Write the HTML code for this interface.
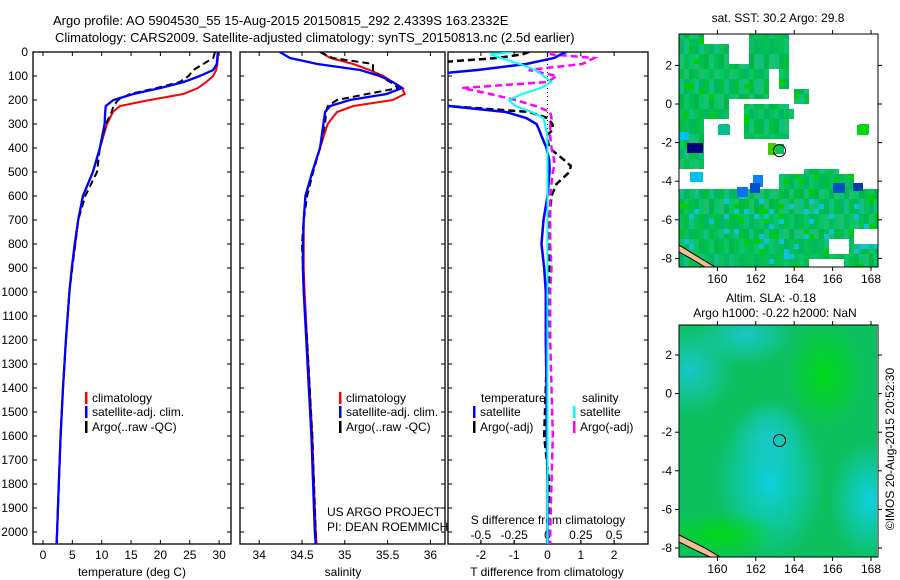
<!DOCTYPE html>
<html><head><meta charset="utf-8"><style>
html,body{margin:0;padding:0;background:#fff;}
svg{display:block;font-family:"Liberation Sans",sans-serif;}
text{font-size:12px;fill:#000;}
</style></head><body>
<svg id="chart" width="900" height="580" viewBox="0 0 900 580" xmlns="http://www.w3.org/2000/svg">
<defs>
<clipPath id="c1"><rect x="33" y="52" width="198" height="492"/></clipPath>
<clipPath id="c2"><rect x="240" y="52" width="205" height="492"/></clipPath>
<clipPath id="c3"><rect x="448" y="52" width="200" height="492"/></clipPath>
<clipPath id="cm1"><rect x="679" y="34" width="199" height="233"/></clipPath>
<clipPath id="cm2"><rect x="679" y="325" width="198" height="232"/></clipPath>
<radialGradient id="g1" cx="0.5" cy="0.5" r="0.5"><stop offset="0" stop-color="#10d0e0"/><stop offset="1" stop-color="#10d0e0" stop-opacity="0"/></radialGradient>
<radialGradient id="g2" cx="0.5" cy="0.5" r="0.5"><stop offset="0" stop-color="#00d818"/><stop offset="1" stop-color="#00d818" stop-opacity="0"/></radialGradient>
<radialGradient id="g3" cx="0.5" cy="0.5" r="0.5"><stop offset="0" stop-color="#18c8c8"/><stop offset="1" stop-color="#18c8c8" stop-opacity="0"/></radialGradient>
</defs>
<text x="53" y="25" style="font-size:13px">Argo profile: AO 5904530_55 15-Aug-2015 20150815_292 2.4339S 163.2332E</text>
<text x="55" y="42" style="font-size:13px">Climatology: CARS2009. Satellite-adjusted climatology: synTS_20150813.nc (2.5d earlier)</text>
<g id="axes"></g>
<g id="series"></g>
<g id="maps"></g>
</svg>
<script>
// ---- profile data ----
const depth = [0,25,50,75,100,125,150,175,200,225,250,300,400,500,600,700,800,900,1000,1200,1400,1600,1800,2000,2050];
const tClim = [29.8,29.8,29.7,29.5,29.0,27.8,26.4,23.9,18.2,13.1,11.9,10.9,9.7,8.5,6.8,6.0,5.5,4.9,4.5,3.9,3.4,3.0,2.7,2.4,2.3];
const tSat  = [29.8,29.7,29.6,29.0,26.7,24.0,20.0,15.4,12.0,10.7,10.6,10.5,9.7,8.5,6.8,6.0,5.4,4.9,4.5,3.9,3.4,3.0,2.7,2.4,2.3];
const tArgo = [29.3,29.0,27.3,25.6,24.8,23.3,19.4,14.8,12.8,12.0,11.7,10.7,9.7,9.2,7.2,6.0,5.5,5.0,4.5,3.9,3.4,3.0,2.7,2.4,2.4];
const sClim = [34.71,34.83,35.10,35.29,35.45,35.56,35.67,35.70,35.56,35.10,34.91,34.80,34.71,34.62,34.54,34.52,34.52,34.52,34.53,34.56,34.59,34.62,34.64,34.66,34.67];
const sSat  = [34.24,34.36,34.68,35.18,35.41,35.56,35.67,35.49,35.06,34.83,34.77,34.75,34.71,34.62,34.54,34.52,34.51,34.51,34.52,34.55,34.58,34.61,34.63,34.65,34.66];
const sArgo = [34.71,34.86,35.33,35.33,35.41,35.53,35.63,35.26,34.91,34.80,34.78,34.77,34.71,34.63,34.56,34.52,34.50,34.51,34.52,34.56,34.59,34.62,34.64,34.66,34.66];
// ---- difference data ----
const dDepth = [0,10,25,50,75,100,125,150,175,200,225,250,275,300,325,350,400,450,475,500,550,600,700,800,900,1000,1200,1400,1600,1800,2000,2050];
const dTSat  = [0.57,0.4,0.2,-0.64,-2.1,-4,-5,-6,-6,-5,-2.97,-1.25,-0.64,-0.33,-0.25,-0.18,-0.03,0.05,0.06,0.06,0.03,0,-0.12,-0.18,-0.1,-0.05,-0.05,-0.03,-0.02,0,0,0];
const dTArgo = [-0.55,-0.76,-1.5,-4,-5,-6,-6,-6,-6,-5,-3,-0.55,0,0.15,0.15,-0.03,0.06,0.5,0.7,0.66,0.27,0.12,0.05,0.05,0.05,0.03,0,-0.05,-0.1,0.05,0,0];
const dSSat  = [-0.26,-0.43,-0.35,-0.21,-0.09,-0.03,0.03,-0.05,-0.19,-0.29,-0.24,-0.12,-0.03,-0.02,-0.01,0,0,0,0,0,0,0,0,0,0,0,0,0,0,0,0,0];
const dSArgo = [0.02,0.03,0.35,0.26,-0.14,0.07,0,-0.64,-0.43,-0.24,-0.09,0.02,0.03,0.02,0.02,0.02,0.03,0.05,0.05,0.04,0.03,0.02,0.02,0.02,0.03,0.02,0.02,0.03,0.04,0.03,0.02,0.02];
// ---- tick labels ----
const depthTicks = [0,100,200,300,400,500,600,700,800,900,1000,1100,1200,1300,1400,1500,1600,1700,1800,1900,2000];
const tempTicks = [0,5,10,15,20,25,30];
const salTicks = [34,34.5,35,35.5,36];
const dTTicks = [-2,-1,0,1,2];
const dSTicks = [-0.5,-0.25,0,0.25,0.5];
const latTicks = [2,0,-2,-4,-6,-8];
const lonTicks = [160,162,164,166,168];

const NS = "http://www.w3.org/2000/svg";
function mk(tag, attrs, parent){const e=document.createElementNS(NS,tag);for(const k in attrs)e.setAttribute(k,attrs[k]);(parent||document.getElementById('chart')).appendChild(e);return e;}
function txt(x,y,s,anchor,parent){const e=mk('text',{x:x,y:y,'text-anchor':anchor||'start'},parent);e.textContent=s;return e;}

const yD = d => 52 + d*0.24;
const xT = t => 43 + t*5.87;
const xS = s => 302 + (s-34.5)*85.6;
const xDT = t => 547.5 + t*33.3;
const xDS = s => 547.5 + s*133.3;

const axes = document.getElementById('axes');
const series = document.getElementById('series');

const panels = [[33,231,'temperature-panel'],[240,445,'salinity-panel'],[448,648,'difference-panel']];
panels.forEach(p=>{
  const r = mk('rect',{x:p[0],y:52,width:p[1]-p[0],height:492,fill:'none',stroke:'#000','stroke-width':1.3},axes);
  
  
  depthTicks.forEach(d=>{
    mk('line',{x1:p[0],x2:p[0]+4,y1:yD(d),y2:yD(d),stroke:'#000'},axes);
    mk('line',{x1:p[1]-4,x2:p[1],y1:yD(d),y2:yD(d),stroke:'#000'},axes);
  });
});
depthTicks.forEach(d=>{
  const t = txt(28, yD(d)+4, String(d), 'end', axes);
  
  
});
function xticks(vals, fx, y, label){
  vals.forEach(v=>{
    const x = fx(v);
    mk('line',{x1:x,x2:x,y1:544,y2:540,stroke:'#000'},axes);
    mk('line',{x1:x,x2:x,y1:52,y2:56,stroke:'#000'},axes);
    const t = txt(x, y, String(v), 'middle', axes);
    
    
  });
}
xticks(tempTicks, xT, 559, 'temperature-tick-label');
xticks(salTicks, xS, 559, 'salinity-tick-label');
xticks(dTTicks, xDT, 559, 't-difference-tick-label');
dSTicks.forEach(v=>{
  const x = xDS(v);
  mk('line',{x1:x,x2:x,y1:544,y2:540,stroke:'#000'},axes);
  const t = txt(x, 539, String(v), 'middle', axes);
  
  
});
[[132,576,'temperature (deg C)','temperature-axis-title'],[343,576,'salinity','salinity-axis-title'],
 [547,576,'T difference from climatology','t-difference-axis-title'],[548,524,'S difference from climatology','s-difference-axis-title']].forEach(a=>{
  const t = txt(a[0],a[1],a[2],'middle',axes);
  
  
});
mk('line',{x1:547.5,x2:547.5,y1:52,y2:544,stroke:'#000','stroke-dasharray':'1,3'},axes);

function line(xs, ds, fx, color, dash, clip, name, w){
  const pts = xs.map((v,i)=>fx(v).toFixed(1)+','+yD(ds[i]).toFixed(1)).join(' ');
  const a = {points:pts,fill:'none',stroke:color,'stroke-width':w||2,'clip-path':'url(#'+clip+')'};
  if(dash) a['stroke-dasharray']=dash;
  const e = mk('polyline',a,series);
  
  
}
line(tClim, depth, xT, '#ff0000', null, 'c1', 'temperature-climatology-line');
line(tArgo, depth, xT, '#000', '7,4', 'c1', 'temperature-argo-line');
line(tSat, depth, xT, '#0000ff', null, 'c1', 'temperature-satellite-line', 2.3);
line(sClim, depth, xS, '#ff0000', null, 'c2', 'salinity-climatology-line');
line(sArgo, depth, xS, '#000', '7,4', 'c2', 'salinity-argo-line');
line(sSat, depth, xS, '#0000ff', null, 'c2', 'salinity-satellite-line', 2.3);
line(dTArgo, dDepth, xDT, '#000', '7,4', 'c3', 't-diff-argo-line', 2.5);
line(dSArgo, dDepth, xDS, '#ff00ff', '7,4', 'c3', 's-diff-argo-line', 2.5);
line(dTSat, dDepth, xDT, '#0000ff', null, 'c3', 't-diff-satellite-line', 2.5);
line(dSSat, dDepth, xDS, '#00ffff', null, 'c3', 's-diff-satellite-line', 2);

function leg(x,y,color,label,name){
  mk('rect',{x:x,y:y-10,width:2.5,height:12,fill:color},axes);
  const t = txt(x+7,y,label,'start',axes);
  
  
}
leg(85,402,'#ff0000','climatology','legend-climatology');
leg(85,416,'#0000ff','satellite-adj. clim.','legend-satellite-adj');
leg(85,431,'#000','Argo(..raw -QC)','legend-argo');
leg(339,402,'#ff0000','climatology','legend-climatology-2');
leg(339,416,'#0000ff','satellite-adj. clim.','legend-satellite-adj-2');
leg(339,431,'#000','Argo(..raw -QC)','legend-argo-2');
let tt = txt(481,402,'temperature','start',axes);


tt = txt(582,402,'salinity','start',axes);


leg(473,416,'#0000ff','satellite','legend-t-satellite');
leg(473,431,'#000','Argo(-adj)','legend-t-argo');
leg(573,416,'#00ffff','satellite','legend-s-satellite');
leg(573,431,'#ff00ff','Argo(-adj)','legend-s-argo');
tt = txt(327,516,'US ARGO PROJECT','start',axes);


tt = txt(327,531,'PI: DEAN ROEMMICH','start',axes);



// ---- maps ----
const maps = document.getElementById('maps');
const lonX = lon => 679 + (lon-158)*19.2;
function mapAxes(top, bottom, lat0y, name){
  const r = mk('rect',{x:679,y:top,width:199,height:bottom-top,fill:'none',stroke:'#000'},maps);
  
  
  latTicks.forEach(l=>{
    const y = lat0y - l*19.3;
    mk('line',{x1:675,x2:679,y1:y,y2:y,stroke:'#000'},maps);
    mk('line',{x1:878,x2:882,y1:y,y2:y,stroke:'#000'},maps);
    const t = txt(672,y+4,String(l),'end',maps);
    
    
  });
  lonTicks.forEach(l=>{
    const x = lonX(l);
    mk('line',{x1:x,x2:x,y1:top-4,y2:top,stroke:'#000'},maps);
    mk('line',{x1:x,x2:x,y1:bottom,y2:bottom+4,stroke:'#000'},maps);
    const t = txt(x,bottom+16,String(l),'middle',maps);
    
    
  });
}
const greenRects = [[679,35,730,120],[679,63,770,100],[749,35,787,67],[745,105,790,140],[679,120,703,167],[679,190,878,267],[803,167,837,193],[780,173,852,190],[718,125,730,135],[857,125,868,135],[768,143,785,155],[783,110,793,120],[795,90,810,103],[710,60,760,100],[780,70,787,88]];
const whiteRects = [[679,172,688,182],[810,257,845,267],[830,240,848,256],[705,35,730,43],[730,35,748,63],[856,230,878,245]];
const pal = ['#00b84a','#08bf5c','#00c050','#10c080','#00b860','#18c070','#00c040','#06c668'];
const mg = mk('g',{'clip-path':'url(#cm1)'},maps);


function inR(x,y,rs){return rs.some(r=>x>=r[0]&&x<r[2]&&y>=r[1]&&y<r[3]);}
for(let x=679;x<878;x+=5){for(let y=34;y<267;y+=5){
  if(!inR(x+2,y+2,greenRects)||inR(x+2,y+2,whiteRects)) continue;
  const h=((x*7919)^(y*104729))>>>3;
  let c=pal[h%8];
  if(y>190 && h%11===0) c='#10c0d8';
  if(h%23===0) c='#00d000';
  mk('rect',{x:x,y:y,width:5,height:5,fill:c},mg);
}}
[[687,143,16,10,'#000080'],[753,175,10,12,'#1080f0'],[737,187,11,10,'#1070f0'],[750,183,10,10,'#0050d0'],[833,183,12,10,'#0050c8'],[853,183,10,8,'#0040b0'],[690,172,13,10,'#00c0f0'],[679,132,10,8,'#00c0f0'],[768,143,8,12,'#40d000'],[857,125,11,10,'#00d800'],[718,125,12,10,'#00c090']].forEach(p=>mk('rect',{x:p[0],y:p[1],width:p[2],height:p[3],fill:p[4]},mg));
mk('path',{d:'M679,245 L700,258 L715,267 L705,267 L690,258 L679,252 Z',fill:'#f0c090',stroke:'#000','stroke-width':1},mg);
mapAxes(34,267,104,'sst-map-frame');
mk('circle',{cx:779.5,cy:150.6,r:6,fill:'none',stroke:'#000'},maps);
tt = txt(778,22,'sat. SST: 30.2 Argo: 29.8','middle',maps);



const bg = mk('g',{'clip-path':'url(#cm2)'},maps);


mk('rect',{x:679,y:325,width:199,height:232,fill:'#0cc060'},bg);
mk('ellipse',{cx:690,cy:370,rx:45,ry:45,fill:'url(#g3)'},bg);
mk('ellipse',{cx:745,cy:335,rx:50,ry:30,fill:'url(#g3)'},bg);
mk('ellipse',{cx:770,cy:480,rx:55,ry:80,fill:'url(#g1)'},bg);
mk('ellipse',{cx:770,cy:440,rx:35,ry:40,fill:'url(#g3)'},bg);
mk('ellipse',{cx:870,cy:500,rx:40,ry:60,fill:'url(#g1)'},bg);
mk('ellipse',{cx:825,cy:375,rx:40,ry:55,fill:'url(#g2)'},bg);
mk('ellipse',{cx:720,cy:535,rx:60,ry:25,fill:'url(#g2)'},bg);
mk('path',{d:'M679,535 L705,548 L720,557 L710,557 L695,550 L679,542 Z',fill:'#f0c090',stroke:'#000','stroke-width':1},bg);
mapAxes(325,557,393.6,'sla-map-frame');
mk('circle',{cx:779.5,cy:440.5,r:6,fill:'none',stroke:'#000'},maps);
tt = txt(771,302,'Altim. SLA: -0.18','middle',maps);


tt = txt(775,317,'Argo h1000: -0.22 h2000: NaN','middle',maps);


tt = mk('text',{x:0,y:0,transform:'translate(894,449) rotate(-90)','text-anchor':'middle'},maps);
tt.textContent='©IMOS 20-Aug-2015 20:52:30';


</script>
</body></html>
